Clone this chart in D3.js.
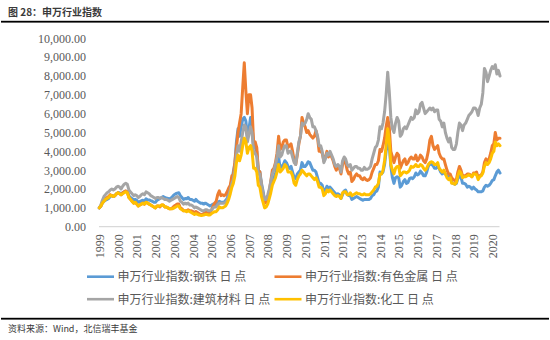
<!DOCTYPE html>
<html><head><meta charset="utf-8">
<script src="https://cdn.jsdelivr.net/npm/d3@7"></script>
<style>
html,body{margin:0;padding:0;background:#fff;}
svg{display:block;}
</style></head>
<body>
<svg id="chart" width="550" height="340"></svg>
<script>
// ---- data (month-end values, Dec 1999 = 1000 base) ----
const startMonth = "1999-12";
const yearLabels = ["1999","2000","2001","2002","2003","2004","2005","2006","2007","2008","2009","2010","2011","2012","2013","2014","2015","2016","2017","2018","2019","2020"];
const yTicks = [0,1000,2000,3000,4000,5000,6000,7000,8000,9000,10000];
const seriesNames = ["申万行业指数:钢铁 日 点","申万行业指数:有色金属 日 点","申万行业指数:建筑材料 日 点","申万行业指数:化工 日 点"];
const seriesColors = ["#5B9BD5","#ED7D31","#A5A5A5","#FFC000"];

const steel = [1000,
1100,1250,1350,1400,1450,1500,1600,1650,1600,1650,1750,1800,
1800,1700,1800,1850,1880,1850,1650,1550,1500,1400,1450,1400,
1300,1330,1380,1400,1350,1480,1430,1420,1380,1350,1300,1300,
1400,1450,1500,1550,1600,1550,1520,1500,1480,1520,1600,1700,
1750,1780,1800,1650,1550,1450,1500,1480,1550,1450,1450,1400,
1350,1450,1350,1300,1250,1250,1200,1250,1200,1150,1100,1150,
1200,1200,1150,1250,1350,1300,1300,1300,1400,1500,1800,2100,
2500,2900,3400,4500,5200,4800,5300,5700,5800,5600,4800,5200,
5800,5400,4200,4300,4000,3000,2900,2300,1900,1400,1350,1500,
1800,2100,2500,2600,2800,3200,3700,3100,3200,3300,3500,3400,
3200,3100,3200,2900,2600,2550,2800,2900,3000,3400,3200,3200,
3300,3450,3400,3200,3000,3000,2900,2600,2300,2300,2200,1850,
1950,2150,2050,2100,2000,1900,1800,1700,1750,1700,1500,1700,
1900,1950,1750,1650,1650,1450,1500,1550,1600,1550,1500,1450,
1400,1450,1450,1450,1450,1500,1650,1700,1850,1900,2100,2900,
2800,2900,3300,4000,4500,4300,3200,2600,2300,2600,2650,2600,
2100,2200,2400,2500,2300,2350,2550,2600,2550,2650,2850,2750,
2800,2950,2850,2700,2700,2900,3200,3350,3300,3250,3100,3100,
3200,3100,2900,2800,2900,2800,2700,2600,2700,2350,2300,2250,
2300,2550,2700,2650,2300,2300,2250,2100,2150,2100,2000,2100,
2000,1950,1850,1850,1850,1900,2100,2200,2150,2200,2300,2450,
2500,2700,2900,3000,2850];

const nonferrous = [1000,
1100,1300,1400,1500,1550,1600,1700,1650,1600,1650,1750,1800,
1750,1700,1800,1850,1900,1850,1550,1450,1350,1250,1300,1200,
1100,1150,1200,1250,1200,1300,1250,1200,1150,1100,1050,1000,
1100,1100,1050,1150,1150,1050,1050,1000,950,950,1000,1100,
1150,1200,1200,1000,950,850,850,850,900,850,850,800,
750,800,750,700,650,650,700,750,750,700,750,900,
1100,1250,1350,1700,1900,1650,1700,1650,1700,1850,2050,2200,
2700,2700,3400,4200,5000,5500,6000,7400,8700,7200,6000,7000,
7000,6300,4400,4500,4200,3000,2900,2100,1700,1250,1300,1500,
1900,2400,3000,3100,3400,3900,4800,4100,4200,4500,4600,4600,
4200,4300,4400,4000,3500,3300,3800,4400,4800,5800,5500,5300,
5000,5100,4900,4800,4700,4800,5100,4700,4000,4000,3900,3500,
3700,4000,3700,3900,3700,3500,3200,3000,3200,3100,2800,3300,
3500,3400,3000,2800,2900,2400,2500,2700,2800,2700,2700,2550,
2500,2600,2500,2450,2500,2600,2900,3100,3300,3300,3500,4100,
4000,4300,4700,5300,5800,5300,4000,3700,3400,3700,3900,3800,
3100,3300,3500,3600,3300,3400,3600,3700,3600,3600,3800,3500,
3600,3800,3700,3500,3400,3600,4000,4600,4800,4300,4100,4200,
4300,3900,3700,3600,3600,3300,3000,2800,2800,2600,2500,2450,
2500,2900,3200,3000,2700,2700,2700,2800,2800,2750,2650,2850,
2850,2900,2600,2700,2750,2900,3400,3600,3500,3600,3900,4300,
4400,5000,4600,4700,4700];

const buildingMat = [1000,
1150,1400,1600,1700,1800,1850,1950,2000,1950,2000,2100,2150,
2100,2000,2150,2250,2300,2250,1950,1850,1750,1650,1700,1650,
1550,1600,1700,1750,1700,1850,1800,1750,1650,1600,1550,1500,
1550,1550,1500,1550,1500,1450,1450,1400,1350,1400,1450,1500,
1550,1600,1550,1350,1300,1200,1250,1200,1250,1150,1150,1100,
1000,1050,1000,950,900,850,850,900,900,850,850,900,
1000,1050,1050,1150,1250,1250,1250,1250,1300,1400,1650,1950,
2300,2500,3000,3800,4300,4000,4500,5000,5400,5300,4500,4900,
5300,5000,3900,3900,3700,2800,2800,2200,1800,1450,1450,1700,
2000,2400,2800,3000,3300,3700,4300,3700,3800,4100,4300,4300,
3900,4000,4000,3700,3400,3300,3900,4500,4800,5500,5400,5500,
5700,6000,5800,5700,5300,5300,5100,4800,4300,4300,4000,3400,
3600,3900,3800,4000,3800,3600,3300,3200,3300,3200,2900,3500,
3700,3600,3300,3200,3300,3000,3100,3200,3200,3100,3100,3000,
3000,3150,3050,3050,3100,3200,3600,3900,4200,4300,4600,5300,
5200,5500,6100,7000,8200,7200,5800,5200,5000,5500,5800,5600,
4800,4900,5200,5300,5200,5400,5600,5800,5700,5800,6200,6000,
6100,6500,6600,6300,6000,6100,6200,6300,6200,6300,6100,6200,
6200,5700,5600,5300,5500,5000,4700,4500,4700,4200,4100,4100,
4400,5000,5500,5400,5100,5400,5500,5700,5900,6000,6100,6300,
6300,6200,5900,6300,6500,7100,8400,8200,7700,8000,8300,8500,
8400,8600,8100,8300,8000];

const chemical = [1000,
1100,1250,1350,1450,1500,1550,1650,1650,1600,1650,1750,1800,
1750,1700,1750,1800,1850,1800,1550,1450,1350,1250,1300,1200,
1100,1150,1200,1250,1200,1300,1250,1200,1150,1100,1050,1000,
1100,1100,1100,1150,1150,1050,1050,1000,950,950,950,1000,
1050,1100,1100,950,900,850,850,800,850,800,750,700,
650,700,650,620,600,600,620,650,650,620,620,700,
750,800,800,900,1050,1000,1000,1050,1100,1250,1450,1750,
2100,2300,2700,3400,3800,3500,3800,4300,4700,4500,3900,4200,
4300,4000,3100,3100,2900,2200,2100,1600,1300,1000,1050,1200,
1500,1800,2200,2400,2600,2900,3300,2900,3000,3100,3300,3200,
2900,2900,2900,2700,2300,2200,2500,2700,2800,3000,2900,2800,
2700,2800,2800,2700,2600,2500,2600,2400,2100,2100,2000,1650,
1750,1950,1850,1950,1850,1750,1650,1600,1650,1600,1500,1800,
1850,1850,1700,1700,1800,1650,1700,1750,1800,1750,1750,1700,
1700,1750,1700,1700,1700,1750,1850,1950,2100,2150,2300,2800,
2800,3000,3500,4300,5200,4600,3300,3000,2800,3100,3200,3200,
2700,2800,2900,2900,2850,2900,3000,3200,3150,3200,3300,3200,
3200,3300,3250,3100,3000,3100,3300,3400,3450,3400,3300,3300,
3400,3100,3000,2900,3000,2800,2600,2500,2600,2300,2300,2250,
2350,2700,2950,2850,2600,2650,2650,2700,2750,2700,2650,2800,
2800,2750,2500,2650,2700,2850,3200,3400,3300,3400,3600,3900,
4000,4500,4300,4400,4300];

const allSeries = [steel, nonferrous, buildingMat, chemical];

// ---- layout ----
const svg = d3.select("#chart");
const parseMonth = d3.timeParse("%Y-%m");
const t0 = parseMonth(startMonth);
// month-end date of point i
const dateOf = i => d3.timeDay.offset(d3.timeMonth.offset(t0, i + 1), -1);

const x = d3.scaleTime()
  .domain([new Date(1999, 11, 31), new Date(2021, 4, 31)])
  .range([99.3, 500]);
const y = d3.scaleLinear().domain([0, 10000]).range([226.7, 38.3]);

// title + rules
svg.append("text").attr("x", 8).attr("y", 15.5)
  .attr("font-family", "'Noto Sans CJK SC','Noto Sans',sans-serif")
  .attr("font-size", 10).attr("font-weight", "bold").attr("fill", "#3a3a3a")
  .text("图 28：申万行业指数");
svg.append("rect").attr("x", 1).attr("y", 20.8).attr("width", 548).attr("height", 1.8).attr("fill", "#000");
svg.append("rect").attr("x", 1).attr("y", 317.8).attr("width", 548).attr("height", 1.8).attr("fill", "#000");
svg.append("text").attr("x", 8).attr("y", 332)
  .attr("font-family", "'Noto Sans CJK SC','Noto Sans',sans-serif")
  .attr("font-size", 9).attr("fill", "#3a3a3a")
  .text("资料来源：Wind，北信瑞丰基金");

// y axis labels
const yAxis = d3.axisLeft(y).tickValues(yTicks).tickFormat(d3.format(",.2f")).tickSize(0).tickPadding(0);
const gy = svg.append("g").attr("transform", "translate(86,0)").call(yAxis);
gy.select(".domain").remove();
gy.selectAll("text").attr("font-family", "'Liberation Serif','Times New Roman',serif")
  .attr("font-size", 12).attr("fill", "#595959");

// x axis
const xAxis = d3.axisBottom(x)
  .tickValues(yearLabels.map(s => new Date(+s, 11, 31)))
  .tickFormat(d => String(d.getFullYear())).tickSize(0).tickPadding(0);
const gx = svg.append("g").attr("transform", "translate(0,226.7)").call(xAxis);
gx.select(".domain").remove();
gx.selectAll("text")
  .attr("font-family", "'Liberation Serif','Times New Roman',serif")
  .attr("font-size", 12).attr("fill", "#595959")
  .attr("text-anchor", "end").attr("dy", "0.35em")
  .attr("transform", "translate(0,7.5) rotate(-90)")
  .attr("x", 0).attr("y", 0);
svg.append("line").attr("x1", 99).attr("x2", 499.5).attr("y1", 226.7).attr("y2", 226.7)
  .attr("stroke", "#D9D9D9").attr("stroke-width", 1.2);

// lines
const line = d3.line().x((d, i) => x(dateOf(i))).y(d => y(d)).curve(d3.curveLinear);
allSeries.forEach((s, k) => {
  svg.append("path").datum(s).attr("d", line)
    .attr("fill", "none").attr("stroke", seriesColors[k])
    .attr("stroke-width", 3).attr("stroke-linejoin", "round").attr("stroke-linecap", "round");
});

// legend
const legendPos = [[87, 276.7], [274.5, 276.7], [87, 299.2], [274.5, 299.2]];
seriesNames.forEach((name, k) => {
  const [lx, ly] = legendPos[k];
  svg.append("line").attr("x1", lx).attr("x2", lx + 27).attr("y1", ly).attr("y2", ly)
    .attr("stroke", seriesColors[k]).attr("stroke-width", 2.6);
  svg.append("text").attr("x", lx + 30.5).attr("y", ly).attr("dy", "0.36em")
    .attr("font-family", "'Noto Sans CJK SC','Noto Sans',sans-serif")
    .attr("font-size", 12).attr("fill", "#595959").text(name);
});
</script>
</body></html>
